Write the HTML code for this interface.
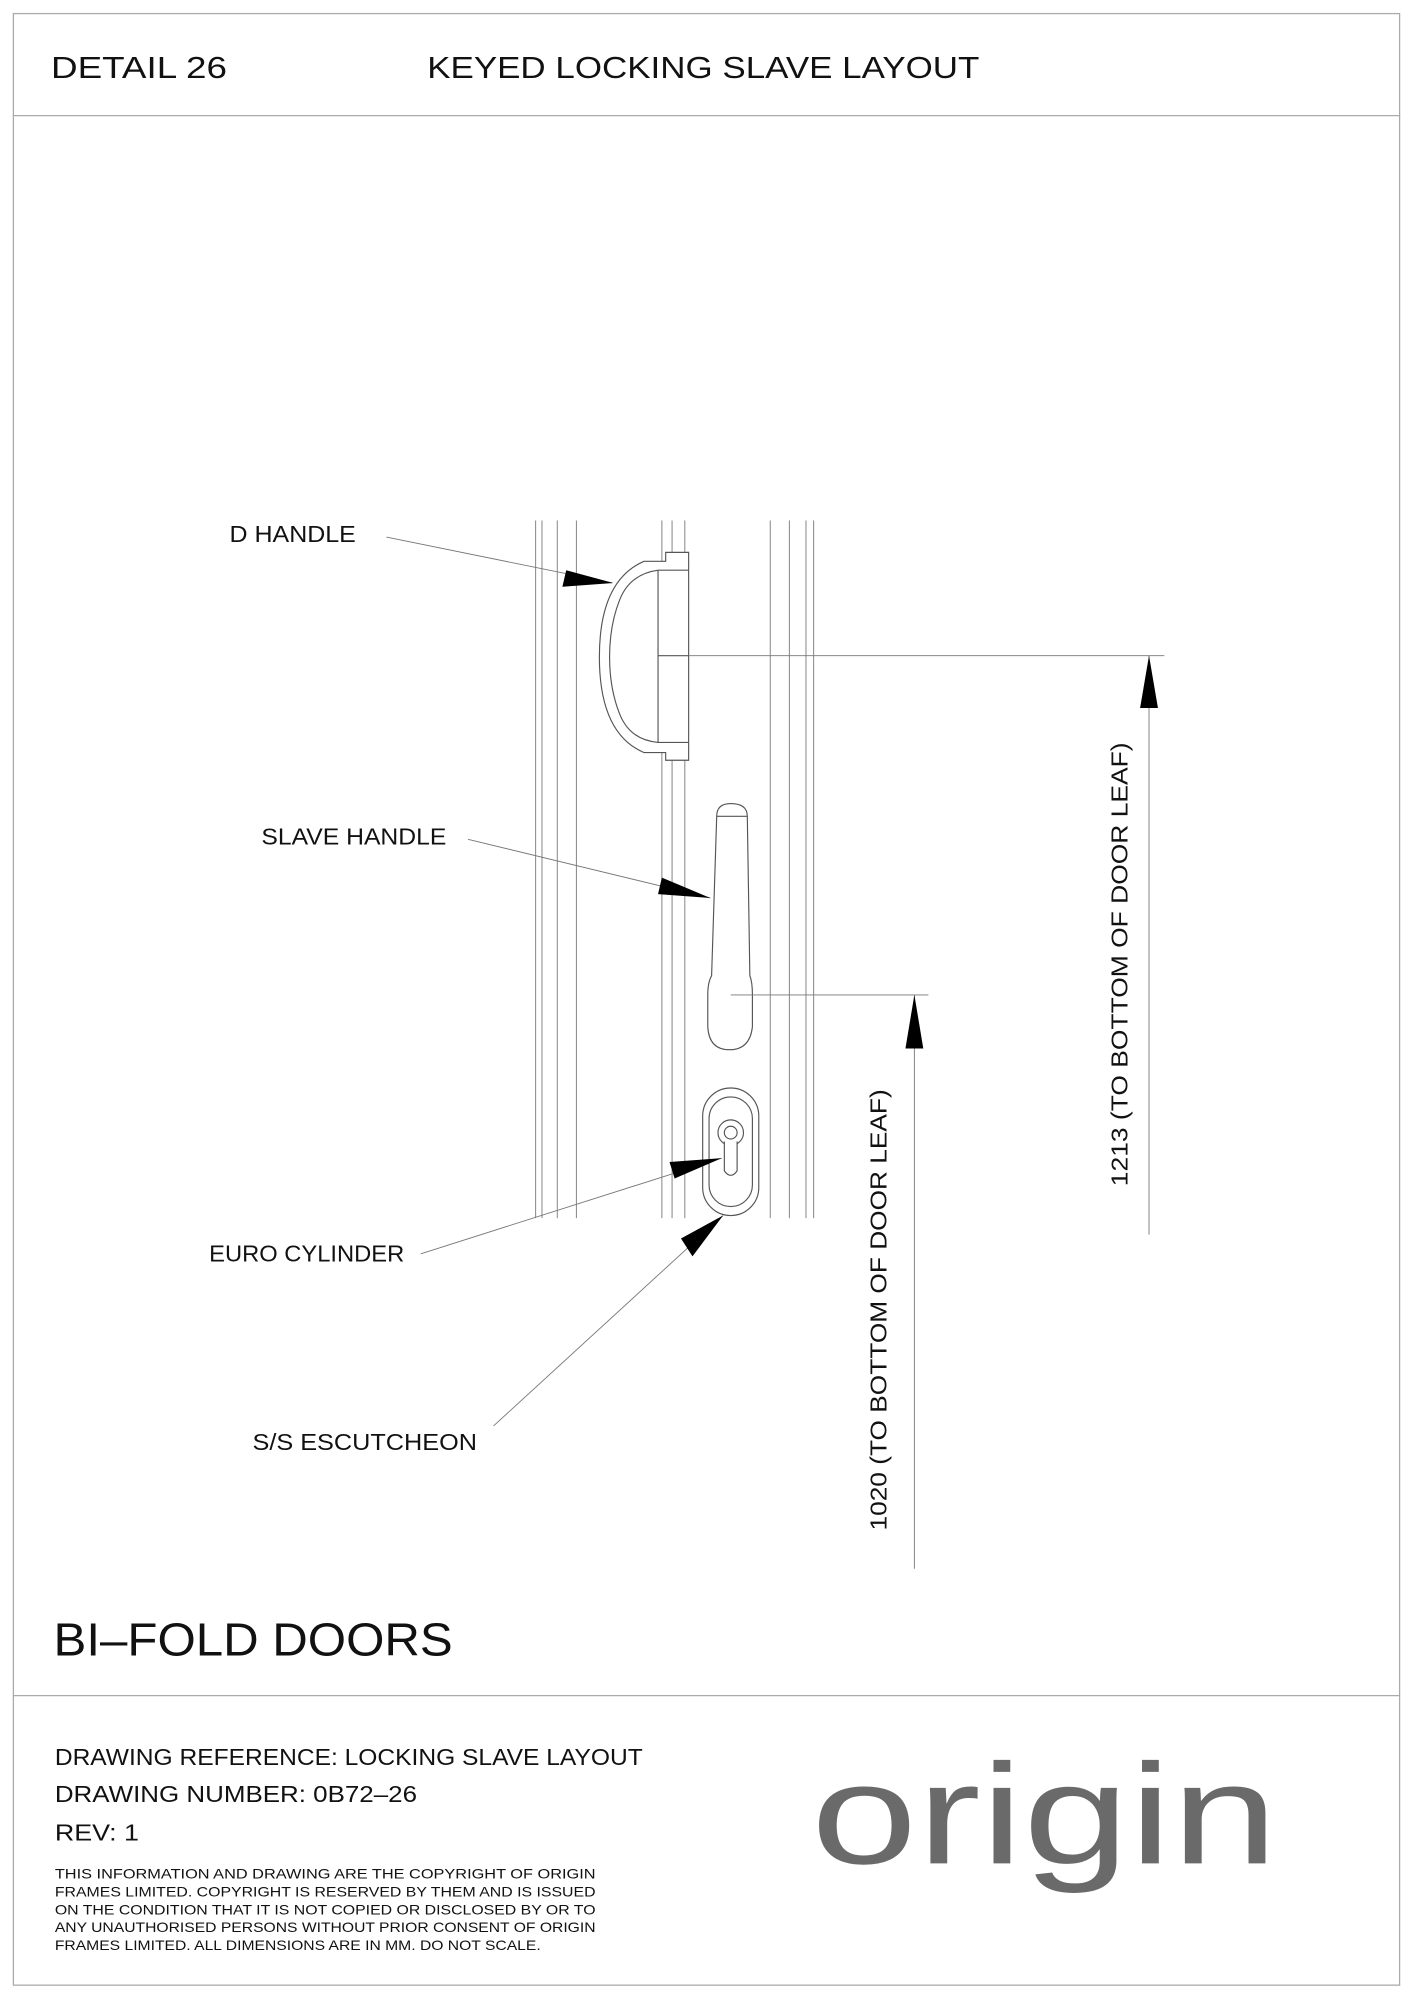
<!DOCTYPE html>
<html><head><meta charset="utf-8"><style>
html,body{margin:0;padding:0;background:#fff;}
svg{display:block;}
text{font-family:"Liberation Sans",sans-serif;fill:#111;}
</style></head><body>
<svg width="1413" height="2000" viewBox="0 0 1108 1568" xmlns="http://www.w3.org/2000/svg">
<rect x="10.5" y="10.5" width="1087" height="1546" fill="none" stroke="#aaa" stroke-width="1"/>
<line x1="10" y1="90.5" x2="1098" y2="90.5" stroke="#aaa"/>
<line x1="10" y1="1329.5" x2="1098" y2="1329.5" stroke="#aaa"/>
<text x="40" y="61" font-size="24" textLength="138" lengthAdjust="spacingAndGlyphs">DETAIL 26</text>
<text x="335" y="61" font-size="24" textLength="433" lengthAdjust="spacingAndGlyphs">KEYED LOCKING SLAVE LAYOUT</text>
<text x="42" y="1298" font-size="36" textLength="313" lengthAdjust="spacingAndGlyphs">BI–FOLD DOORS</text>
<text x="43" y="1384" font-size="18" textLength="461" lengthAdjust="spacingAndGlyphs">DRAWING REFERENCE: LOCKING SLAVE LAYOUT</text>
<text x="43" y="1413" font-size="18" textLength="284" lengthAdjust="spacingAndGlyphs">DRAWING NUMBER: 0B72–26</text>
<text x="43" y="1443" font-size="18" textLength="66" lengthAdjust="spacingAndGlyphs">REV: 1</text>
<g font-size="11">
<text x="43" y="1473" textLength="424" lengthAdjust="spacingAndGlyphs">THIS INFORMATION AND DRAWING ARE THE COPYRIGHT OF ORIGIN</text>
<text x="43" y="1487" textLength="424" lengthAdjust="spacingAndGlyphs">FRAMES LIMITED. COPYRIGHT IS RESERVED BY THEM AND IS ISSUED</text>
<text x="43" y="1501" textLength="424" lengthAdjust="spacingAndGlyphs">ON THE CONDITION THAT IT IS NOT COPIED OR DISCLOSED BY OR TO</text>
<text x="43" y="1515" textLength="424" lengthAdjust="spacingAndGlyphs">ANY UNAUTHORISED PERSONS WITHOUT PRIOR CONSENT OF ORIGIN</text>
<text x="43" y="1529" textLength="381" lengthAdjust="spacingAndGlyphs">FRAMES LIMITED. ALL DIMENSIONS ARE IN MM. DO NOT SCALE.</text>
</g>
<text x="636" y="1461" font-size="112" style="fill:#6a6a6a" textLength="366" lengthAdjust="spacingAndGlyphs">origin</text>

<g stroke="#888" stroke-width="0.8" fill="none">
<line x1="420" y1="408" x2="420" y2="955"/><line x1="425" y1="408" x2="425" y2="955"/>
<line x1="437" y1="408" x2="437" y2="955"/><line x1="452" y1="408" x2="452" y2="955"/>
<line x1="519" y1="408" x2="519" y2="955"/><line x1="527" y1="408" x2="527" y2="955"/>
<line x1="537" y1="408" x2="537" y2="955"/>
<line x1="604" y1="408" x2="604" y2="955"/><line x1="619" y1="408" x2="619" y2="955"/>
<line x1="632" y1="408" x2="632" y2="955"/><line x1="638" y1="408" x2="638" y2="955"/>
</g>
<g stroke="#555" stroke-width="0.9" fill="#fff">
<path d="M540 433 L540 596 L522 596 L522 590 L505 590 Q470 575 470 515 Q470 455 505 440 L522 440 L522 433 Z"/>
<path d="M516 447 L540 447 M516 514 L540 514 M516 582 L540 582 M516 447 L516 582" fill="none"/>
<path d="M516 447 Q494 450 486 470 Q478 490 478 515 Q478 540 486 560 Q494 580 516 582" fill="none"/>
<path d="M562 640 Q562 630 573 630 Q586 630 586 640 L588 765 Q590 770 590 780 L590 805 Q588 823 572 823 Q556 823 555 805 L555 780 Q555 770 558 765 Z"/>
<line x1="562" y1="640" x2="586" y2="640"/>
<rect x="551" y="853" width="44" height="100" rx="22"/>
<rect x="556" y="860" width="34" height="86" rx="17" fill="none"/>
<circle cx="573" cy="888" r="10"/>
<circle cx="573" cy="888" r="5" fill="none"/>
<path d="M568 895 L568 918 Q573 925 578 918 L578 895" />
</g>
<g stroke="#777" stroke-width="0.7">
<line x1="303" y1="421" x2="480" y2="457"/>
<line x1="367" y1="658" x2="557" y2="704"/>
<line x1="330" y1="983" x2="566" y2="908"/>
<line x1="387" y1="1118" x2="567" y2="953"/>
<line x1="540" y1="514" x2="913" y2="514"/>
<line x1="901" y1="514" x2="901" y2="968"/>
<line x1="573" y1="780" x2="728" y2="780"/>
<line x1="717" y1="780" x2="717" y2="1230"/>
</g>
<g fill="#000">
<polygon points="481,457 444,447 441,460"/>
<polygon points="557,704 519,688 516,701"/>
<polygon points="566,908 525,911 529,924"/>
<polygon points="567,953 534,971 543,985"/>
<polygon points="901,514 894,555 908,555"/>
<polygon points="717,780 710,822 724,822"/>
</g>
<g font-size="18">
<text x="180" y="425" textLength="99" lengthAdjust="spacingAndGlyphs">D HANDLE</text>
<text x="205" y="662" textLength="145" lengthAdjust="spacingAndGlyphs">SLAVE HANDLE</text>
<text x="164" y="989" textLength="153" lengthAdjust="spacingAndGlyphs">EURO CYLINDER</text>
<text x="198" y="1137" textLength="176" lengthAdjust="spacingAndGlyphs">S/S ESCUTCHEON</text>
<text transform="translate(884,930) rotate(-90)" textLength="348" lengthAdjust="spacingAndGlyphs">1213 (TO BOTTOM OF DOOR LEAF)</text>
<text transform="translate(695,1200) rotate(-90)" textLength="346" lengthAdjust="spacingAndGlyphs">1020 (TO BOTTOM OF DOOR LEAF)</text>
</g>
</svg>
</body></html>
